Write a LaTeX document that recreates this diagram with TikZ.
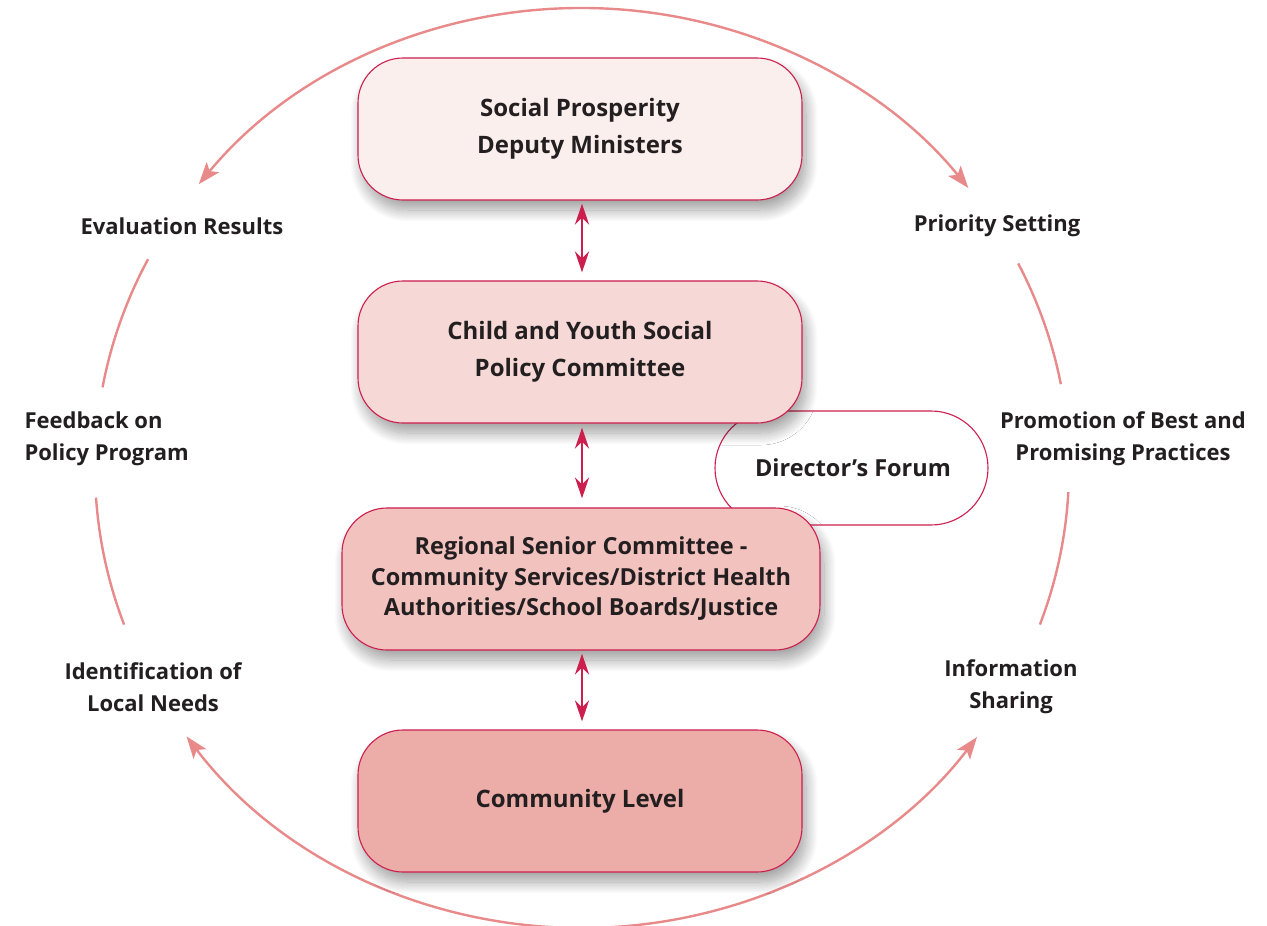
\documentclass[tikz,border=0pt]{standalone}
\usepackage{fontspec}
\setmainfont{Open Sans}
\usetikzlibrary{arrows.meta,shadows.blur}
\definecolor{crim}{HTML}{CC1F4E}
\definecolor{arcc}{HTML}{E8898A}
\definecolor{txt}{HTML}{231F20}
\definecolor{fa}{HTML}{FBEFED}
\definecolor{fb}{HTML}{F6D9D6}
\definecolor{fc}{HTML}{F2C2BF}
\definecolor{fd}{HTML}{ECADA8}
\begin{document}
\begin{tikzpicture}[x=1pt,y=-1pt,
  box/.style={draw=crim, line width=1.1pt, rounded corners=45pt,
    minimum width=444pt, minimum height=142pt, align=center,
    font=\fontsize{24}{37}\selectfont\bfseries, text=txt,
    blur shadow={shadow xshift=4pt, shadow yshift=-10pt, shadow blur radius=12pt,
      shadow blur steps=24, shadow opacity=38}},
  forum/.style={draw=crim, line width=1.1pt, fill=white, rounded corners=57pt,
    minimum width=273pt, minimum height=114pt,
    font=\fontsize{23.5}{30}\selectfont\bfseries, text=txt},
  lbl/.style={font=\fontsize{22}{32}\selectfont\bfseries, text=txt, align=center},
  dbl/.style={draw=crim, line width=2.8pt,
    {Stealth[length=21pt,width=14pt]}-{Stealth[length=21pt,width=14pt]}},
  cyc/.style={draw=arcc, line width=2.4pt},
  cyca/.style={cyc, {Stealth[length=22pt,width=16pt,inset=5pt]}-{Stealth[length=22pt,width=16pt,inset=5pt]}},
]
\useasboundingbox (0,0) rectangle (1267,926);

% cycle arcs
\coordinate (O) at (582,468);
\path (O) ++(218.1:487 and 460) coordinate (t1);
\path (O) ++(190.1:487 and 460) coordinate (l1);
\path (O) ++(160.1:487 and 460) coordinate (l2);
\path (O) ++(144.3:487 and 460) coordinate (b1);
\path (O) ++(333.6:487 and 460) coordinate (r1);
\path (O) ++(3:487 and 460) coordinate (r2);
\draw[cyca] (t1) arc[start angle=218.1, end angle=322.5, x radius=487, y radius=460];
\draw[cyca] (b1) arc[start angle=144.3, end angle=35.8, x radius=487, y radius=460];
\draw[cyc] (l1) arc[start angle=190.1, end angle=207, x radius=487, y radius=460];
\draw[cyc] (l2) arc[start angle=160.1, end angle=176.3, x radius=487, y radius=460];
\draw[cyc] (r1) arc[start angle=333.6, end angle=349.5, x radius=487, y radius=460];
\draw[cyc] (r2) arc[start angle=3, end angle=19.9, x radius=487, y radius=460];

% director's forum (behind boxes)
\node[forum] (df) at (851.5,468) {\hspace{3pt}Director’s Forum};

% boxes
\node[box, fill=fa] (spdm) at (580,129) {Social Prosperity\\Deputy Ministers};
\node[box, fill=fb] (cysp) at (580,352) {Child and Youth Social\\Policy Committee};
\node[box, fill=fc, minimum width=478pt, font=\fontsize{23.5}{30.5}\selectfont\bfseries] (rsc) at (581,579)
  {Regional Senior Committee -\\Community Services/District Health\\Authorities/School Boards/Justice};
\node[box, fill=fd] (cl) at (580,801) {Community Level};

% double arrows
\draw[dbl, shorten <=3pt, shorten >=8pt] ([xshift=2pt]spdm.south) -- ([xshift=2pt]cysp.north);
\draw[dbl, shorten <=4pt, shorten >=9pt] ([xshift=2pt]cysp.south) -- ([xshift=1pt]rsc.north);
\draw[dbl, shorten <=3pt, shorten >=8pt] ([xshift=1pt]rsc.south) -- ([xshift=2pt]cl.north);

% labels
\node[lbl] (er) at (182,226) {Evaluation Results};
\node[lbl] (ps) at (997,226) {Priority Setting};
\node[lbl, align=left, anchor=west] (fbk) at (21,439) {Feedback on\\Policy Program};
\node[lbl] (pbp) at (1123,439) {Promotion of Best and\\Promising Practices};
\node[lbl] (iln) at (153,687) {Identification of\\Local Needs};
\node[lbl] (ish) at (1011,687) {Information\\Sharing};
\end{tikzpicture}
\end{document}
